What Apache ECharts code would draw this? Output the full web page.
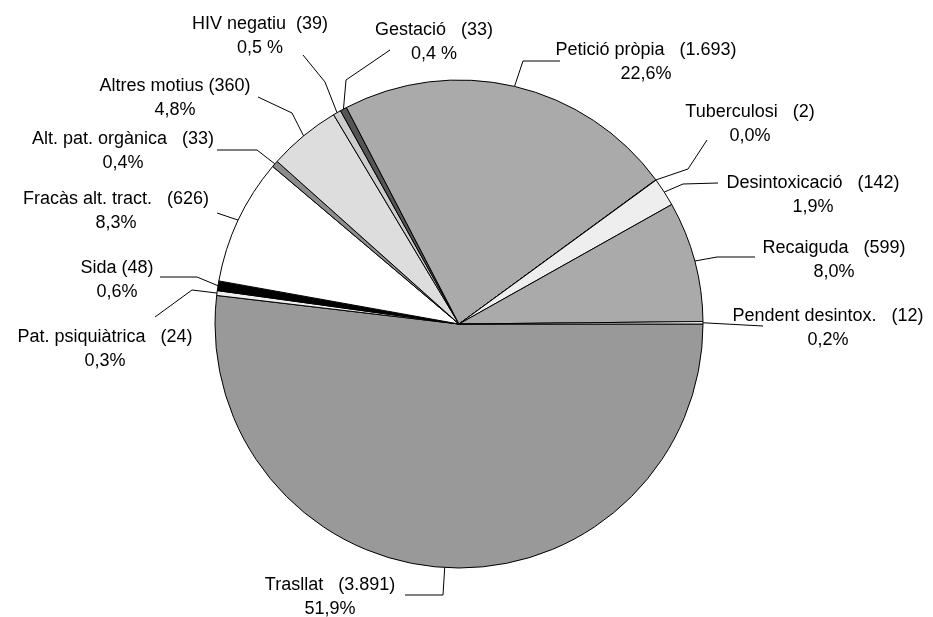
<!DOCTYPE html>
<html>
<head>
<meta charset="utf-8">
<script src="https://cdn.jsdelivr.net/npm/echarts@6/dist/echarts.min.js"></script>
<style>
  html, body { margin: 0; padding: 0; background: #fff; }
  #main { width: 933px; height: 617px; }
</style>
</head>
<body>
<div id="main"></div>
<script>
// slices, clockwise from 3 o'clock
const categories = ['Trasllat', 'Pat. psiquiàtrica', 'Sida', 'Fracàs alt. tract.', 'Alt. pat. orgànica',
  'Altres motius', 'HIV negatiu', 'Gestació', 'Petició pròpia', 'Tuberculosi', 'Desintoxicació',
  'Recaiguda', 'Pendent desintox.'];
const counts = [3891, 24, 48, 626, 33, 360, 39, 33, 1693, 2, 142, 599, 12];
// grey fill of each slice
const fills = ['#999999', '#eeeeee', '#000000', '#ffffff', '#8c8c8c', '#dddddd', '#cccccc', '#555555',
  '#aaaaaa', '#eeeeee', '#eeeeee', '#aaaaaa', '#ffffff'];

// label placement: text centre, then leader elbow + end
const labelPos = [[330, 597], [105, 349], [117, 280], [116, 211], [123, 151], [175, 98], [260, 36],
  [434, 42], [646, 62], [750, 124], [813, 195], [834, 260], [828, 328]];
const guides = [
  [[443, 595], [405, 595]],
  [[192, 290], [155, 317]],
  [[197, 277], [160, 277]],
  [[217, 213], [217, 213]],
  [[257, 150], [217, 150]],
  [[292, 113], [258, 97]],
  [[325, 82], [303, 55]],
  [[346, 80], [390, 50]],
  [[523, 61], [560, 61]],
  [[688, 169], [707, 140]],
  [[683, 184], [718, 183]],
  [[717, 257], [755, 257]],
  [[763, 326], [763, 326]]
];
// spacing used in the original labels
const nameGap = ['   ', '   ', ' ', '   ', '   ', ' ', '  ', '   ', '   ', '   ', '   ', '   ', '   '];
const pctSign = ['%', '%', '%', '%', '%', '%', ' %', ' %', '%', '%', '%', '%', '%'];

const total = counts.reduce((a, b) => a + b, 0);

function fmtCount(n) {
  return String(n).replace(/\B(?=(\d{3})+(?!\d))/g, '.');
}

const chart = echarts.init(document.getElementById('main'), null, { renderer: 'canvas' });

const option = {
  animation: false,
  backgroundColor: '#ffffff',
  textStyle: { fontFamily: 'Liberation Sans, Arial, sans-serif' },
  series: [
    {
      type: 'pie',
      silent: true,
      center: [459, 324],
      radius: 244,
      startAngle: 0,
      clockwise: true,
      avoidLabelOverlap: false,
      itemStyle: { borderColor: '#000', borderWidth: 1 },
      label: {
        show: true,
        position: 'outside',
        color: '#000',
        fontSize: 18,
        lineHeight: 24,
        fontFamily: 'Liberation Sans, Arial, sans-serif',
        align: 'center',
        formatter: function (p) {
          const i = p.dataIndex;
          const pct = (counts[i] / total * 100).toFixed(1).replace('.', ',');
          return categories[i] + nameGap[i] + '(' + fmtCount(counts[i]) + ')\n' + pct + pctSign[i];
        }
      },
      labelLine: { show: true, length: 10, length2: 10, lineStyle: { color: '#000', width: 1 } },
      labelLayout: function (params) {
        const i = params.dataIndex;
        const start = params.labelLinePoints ? params.labelLinePoints[0] : guides[i][0];
        return {
          x: labelPos[i][0],
          y: labelPos[i][1],
          align: 'center',
          verticalAlign: 'middle',
          labelLinePoints: [start, guides[i][0], guides[i][1]]
        };
      },
      data: categories.map((name, i) => ({
        name: name,
        value: counts[i],
        itemStyle: { color: fills[i] }
      }))
    }
  ]
};

chart.setOption(option);
</script>
</body>
</html>
